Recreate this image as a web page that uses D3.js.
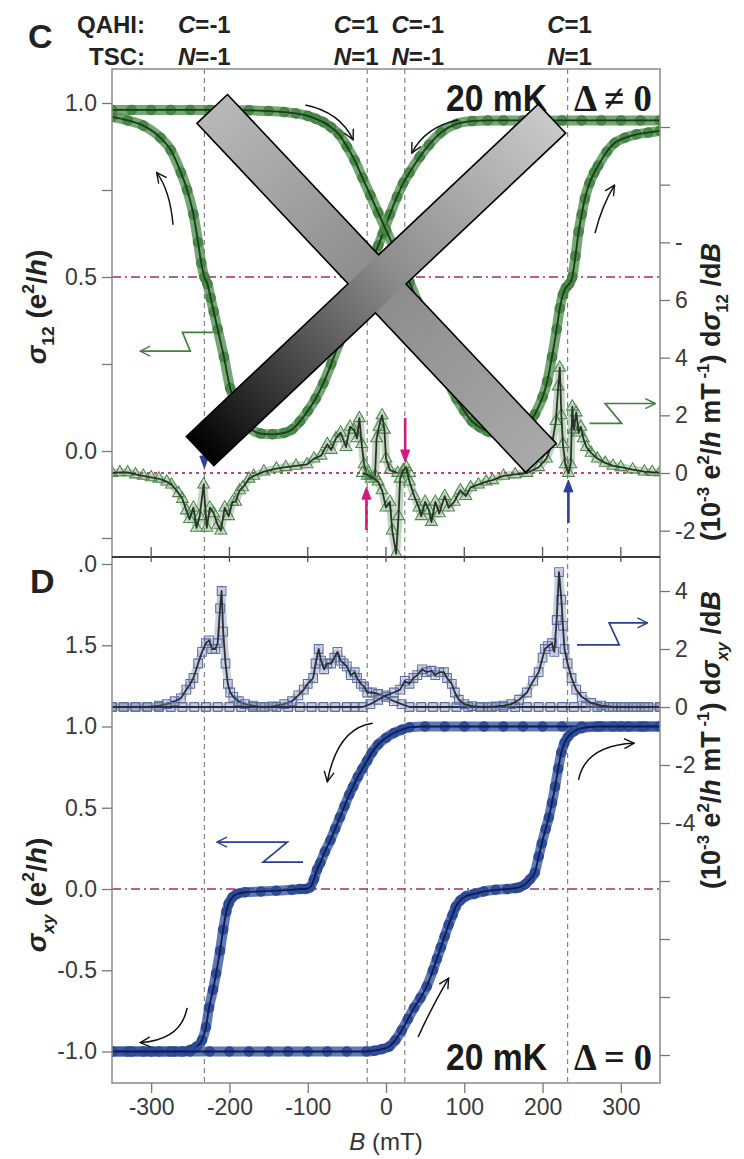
<!DOCTYPE html>
<html>
<head>
<meta charset="utf-8">
<script src="https://cdn.jsdelivr.net/npm/d3@7"></script>
<style>
    body { margin: 0; background: #fff; }
    svg  { display: block; font-family: "Liberation Sans", Arial, sans-serif; }
</style>
</head>
<body>
<svg id="chart" width="744" height="1159"></svg>
<script>

// ---- data (B in mT) ----

var bTicks = [-300, -200, -100, 0, 100, 200, 300];
var transitionFields = [-232, -24, 24, 232];
var qahiLabels = ["-1", "1", "-1", "1"];
var tscLabels  = ["-1", "1", "-1", "1"];

var sigma12Up = [
    [-350,0.98],[-325,0.98],[-300,0.98],[-275,0.98],[-250,0.98],[-225,0.98],[-200,0.98],[-175,0.979],
    [-150,0.977],[-130,0.974],[-115,0.97],[-100,0.963],[-90,0.955],[-80,0.945],[-70,0.93],[-60,0.91],
    [-50,0.875],[-40,0.835],[-30,0.785],[-20,0.735],[-10,0.685],[0,0.635],[10,0.585],[20,0.535],
    [30,0.485],[40,0.43],[50,0.37],[60,0.31],[70,0.25],[80,0.195],[90,0.15],[100,0.115],[110,0.085],
    [120,0.068],[130,0.056],[140,0.05],[150,0.048],[160,0.05],[170,0.058],[180,0.072],[190,0.105],
    [200,0.155],[206,0.2],[212,0.27],[218,0.35],[222,0.41],[226,0.45],[230,0.47],[234,0.48],[238,0.5],
    [242,0.56],[246,0.63],[250,0.68],[254,0.725],[260,0.77],[266,0.8],[271,0.82],[282,0.86],[292,0.885],
    [305,0.9],[320,0.91],[335,0.915],[350,0.92]
];

var sigma12Down = [
    [-350,0.96],[-330,0.95],[-310,0.935],[-288,0.9],[-275,0.865],[-262,0.8],[-254,0.75],[-246,0.68],
    [-240,0.6],[-236,0.54],[-232,0.5],[-228,0.48],[-224,0.44],[-220,0.4],[-215,0.35],[-207,0.27],
    [-199,0.18],[-193,0.14],[-186,0.1],[-175,0.068],[-160,0.05],[-145,0.048],[-130,0.052],[-120,0.062],
    [-110,0.085],[-100,0.115],[-90,0.15],[-80,0.195],[-70,0.25],[-60,0.31],[-50,0.37],[-40,0.43],
    [-30,0.485],[-20,0.54],[-10,0.59],[-4,0.625],[5,0.68],[14,0.73],[22,0.77],[30,0.8],[43,0.845],
    [55,0.88],[70,0.915],[90,0.94],[110,0.948],[130,0.95],[150,0.95],[175,0.95],[200,0.95],[225,0.95],
    [250,0.95],[275,0.95],[300,0.95],[325,0.95],[350,0.95]
];

// d(sigma12)/dB, 1e-3 e^2/h per mT
var dSigma12Down = [
    [-350,0],[-340,0.02],[-330,0.02],[-320,-0.05],[-310,-0.1],[-300,-0.15],[-290,-0.2],[-280,-0.3],
    [-274,-0.4],[-265,-0.7],[-260,-0.9],[-255,-1.3],[-251,-1.6],[-246,-1.2],[-242,-1.9],[-238,-1.5],
    [-233,-0.4],[-229,-1.9],[-225,-1.2],[-220,-1.4],[-215,-1.8],[-211,-2.0],[-206,-1.2],[-201,-1.5],
    [-196,-1.0],[-192,-1.0],[-187,-0.6],[-183,-0.5],[-175,-0.2],[-169,-0.1],[-156,0.05],[-140,0.15],
    [-128,0.2],[-115,0.25],[-101,0.3],[-92,0.5],[-83,0.6],[-75,1.0],[-70,0.8],[-64,1.2],[-58,1.4],
    [-51,0.9],[-46,1.6],[-41,1.5],[-37,1.2],[-34,1.9],[-31,1.0],[-28,0.3],[-24,-0.1],[-19,-0.2],
    [-14,-0.1],[-12,1.2],[-9,1.6],[-5,2.0],[-2,1.5],[0,0.5],[5,0.1],[15,0],[30,0]
];

var dSigma12Up = [
    [-30,0],[-20,-0.1],[-10,-0.3],[-5,-0.6],[0,-1.2],[5,-1.0],[8,-2.0],[13,-2.8],[16,-1.5],[18,-0.2],
    [22,0.1],[26,0.2],[30,-0.3],[36,-0.8],[42,-1.2],[45,-1.5],[50,-1.0],[55,-1.3],[58,-1.7],[63,-1.0],
    [68,-1.4],[75,-0.8],[80,-1.2],[87,-1.0],[95,-0.6],[102,-0.8],[108,-0.5],[118,-0.4],[128,-0.3],
    [136,-0.25],[150,-0.1],[165,-0.05],[180,0],[195,0.2],[205,0.5],[212,1.0],[217,1.8],[220,3.0],
    [222,3.65],[224,2.0],[226,1.0],[229,0.3],[233,0.0],[236,0.3],[238,2.3],[240,1.5],[243,2.1],
    [246,1.4],[249,1.6],[252,1.2],[256,0.9],[262,0.7],[270,0.5],[280,0.35],[290,0.25],[300,0.2],
    [315,0.12],[330,0.05],[340,0.03],[350,0.02]
];

var sigmaXYUp = [
    [-350,-1],[-325,-1],[-300,-1],[-275,-1],[-250,-1],[-225,-1],[-200,-1],[-175,-1],[-150,-1],[-125,-1],
    [-100,-1],[-75,-1],[-50,-1],[-25,-1],[-15,-0.995],[-5,-0.985],[4,-0.97],[12,-0.93],[20,-0.87],
    [28,-0.8],[36,-0.73],[44,-0.67],[52,-0.6],[60,-0.5],[65,-0.43],[70,-0.36],[75,-0.29],[80,-0.22],
    [85,-0.16],[89,-0.11],[95,-0.07],[102,-0.045],[113,-0.03],[125,-0.015],[140,-0.005],[155,0],
    [165,0.005],[170,0.01],[178,0.03],[184,0.06],[190,0.1],[195,0.2],[199,0.28],[204,0.37],[208,0.44],
    [212,0.53],[216,0.63],[220,0.74],[224,0.84],[228,0.9],[233,0.94],[240,0.97],[250,0.99],[270,1],
    [290,1],[310,1],[330,1],[350,1]
];

var sigmaXYDown = [
    [-350,-1],[-330,-1],[-310,-1],[-290,-1],[-270,-1],[-260,-1],[-250,-0.99],[-242,-0.97],[-235,-0.93],
    [-230,-0.85],[-226,-0.73],[-221,-0.62],[-217,-0.52],[-212,-0.38],[-208,-0.25],[-204,-0.14],
    [-201,-0.09],[-196,-0.05],[-190,-0.03],[-180,-0.02],[-160,-0.015],[-140,-0.01],[-120,-0.005],
    [-110,0],[-103,0],[-97,0.01],[-92,0.06],[-88,0.12],[-84,0.16],[-78,0.23],[-71,0.3],[-65,0.37],
    [-59,0.44],[-53,0.51],[-47,0.58],[-42,0.63],[-36,0.69],[-30,0.74],[-24,0.79],[-18,0.84],[-10,0.89],
    [0,0.93],[10,0.96],[20,0.98],[30,0.995],[50,1],[75,1],[100,1],[125,1],[150,1],[175,1],[200,1],
    [225,1],[250,1],[275,1],[300,1],[325,1],[350,1]
];

// d(sigma_xy)/dB, 1e-3 e^2/h per mT
var dSigmaXYDown = [
    [-350,0],[-335,0],[-320,0],[-305,0],[-290,0.05],[-280,0.1],[-270,0.2],[-262,0.3],[-255,0.6],
    [-250,0.8],[-246,1.0],[-240,1.5],[-235,1.9],[-230,2.2],[-226,2.3],[-222,2.0],[-218,2.0],[-215,2.2],
    [-212,3.4],[-210,4.0],[-208,2.6],[-205,1.5],[-202,0.8],[-199,0.5],[-195,0.35],[-188,0.2],
    [-180,0.1],[-170,0.05],[-160,0],[-145,0.02],[-130,0.1],[-120,0.2],[-112,0.4],[-105,0.6],
    [-100,0.8],[-93,1.0],[-90,1.5],[-86,2.0],[-83,1.6],[-79,1.3],[-75,1.5],[-70,1.5],[-66,1.7],
    [-62,1.9],[-58,1.6],[-54,1.5],[-50,1.4],[-45,1.1],[-40,1.2],[-37,1.0],[-32,0.8],[-28,0.7],
    [-24,0.5],[-18,0.5],[-10,0.45],[0,0.35],[10,0.2],[20,0.1],[30,0],[45,0],[60,0],[75,0],[90,0],
    [105,0],[120,0],[135,0],[150,0],[165,0],[180,0],[195,0],[210,0],[225,0],[240,0],[255,0],[270,0],
    [285,0],[300,0],[315,0],[330,0],[350,0]
];

var dSigmaXYUp = [
    [-350,0],[-335,0],[-320,0],[-305,0],[-290,0],[-275,0],[-260,0],[-245,0],[-230,0],[-215,0],
    [-200,0],[-185,0],[-170,0],[-155,0],[-140,0],[-125,0],[-110,0],[-95,0],[-80,0],[-65,0],[-50,0],
    [-40,0],[-30,0],[-20,0.1],[-10,0.25],[0,0.4],[10,0.5],[18,0.6],[24,0.9],[30,0.8],[35,1.0],
    [40,1.1],[46,1.3],[52,1.2],[58,1.25],[63,1.1],[68,1.2],[74,1.2],[78,1.0],[84,0.8],[88,0.5],
    [93,0.25],[100,0.1],[110,0.03],[120,0],[130,0],[140,0.02],[150,0.05],[160,0.1],[170,0.25],
    [180,0.5],[188,0.9],[195,1.2],[200,1.7],[203,2.0],[207,2.1],[212,2.2],[215,1.9],[218,3.0],
    [221,4.65],[224,3.7],[226,2.8],[228,2.0],[232,1.5],[237,1.0],[243,0.6],[250,0.35],[262,0.14],
    [275,0.05],[290,0],[305,0],[320,0],[335,0],[350,0]
];

// ---- layout ----

var frame = { left: 112, right: 660, top: 69, mid: 557, bottom: 1083 };

var x   = d3.scaleLinear().domain([-350, 350]).range([frame.left, frame.right]);
var yC  = d3.scaleLinear().domain([0, 1]).range([451, 103]);
var yCd = d3.scaleLinear().domain([0, 6]).range([473, 300]);
var yD  = d3.scaleLinear().domain([0, 1]).range([889, 726.5]);
var yDd = d3.scaleLinear().domain([0, 4]).range([707, 591]);

var GREEN = "#468a45", GREEN_DARK = "#1c3a1c";
var BLUE  = "#2c4d9e", BLUE_DARK = "#0e1c4e";
var PLUM  = "#9c2f6c";

var svg  = d3.select("#chart");
var defs = svg.append("defs");

defs.append("clipPath").attr("id", "clipC")
    .append("rect")
    .attr("x", frame.left).attr("y", frame.top)
    .attr("width", frame.right - frame.left).attr("height", frame.mid - frame.top);

defs.append("clipPath").attr("id", "clipD")
    .append("rect")
    .attr("x", frame.left).attr("y", frame.mid)
    .attr("width", frame.right - frame.left).attr("height", frame.bottom - frame.mid);

["#111", "#3f7f3f", "#2a3f8f"].forEach(function (c, i) {
    defs.append("marker")
        .attr("id", "head" + i)
        .attr("viewBox", "0 0 12 12")
        .attr("refX", 11).attr("refY", 6)
        .attr("markerWidth", 12).attr("markerHeight", 12)
        .attr("markerUnits", "userSpaceOnUse")
        .attr("orient", "auto")
        .append("path")
        .attr("d", "M1,1 L11,6 L1,11")
        .attr("fill", "none")
        .attr("stroke", c)
        .attr("stroke-width", 1.4);
});

// ---- guide lines ----

var guides = svg.append("g");

guides.selectAll("line.field")
    .data(transitionFields)
    .enter()
    .append("line")
    .attr("class", "field")
    .attr("x1", function (d) { return x(d); })
    .attr("x2", function (d) { return x(d); })
    .attr("y1", frame.top).attr("y2", frame.bottom)
    .attr("stroke", "#7a7a7a")
    .attr("stroke-width", 1.1)
    .attr("stroke-dasharray", "5,4");

guides.append("line")
    .attr("x1", frame.left).attr("x2", frame.right)
    .attr("y1", yC(0.5)).attr("y2", yC(0.5))
    .attr("stroke", PLUM).attr("stroke-width", 1.5)
    .attr("stroke-dasharray", "9,4,2,4");

guides.append("line")
    .attr("x1", frame.left).attr("x2", frame.right)
    .attr("y1", yD(0)).attr("y2", yD(0))
    .attr("stroke", PLUM).attr("stroke-width", 1.5)
    .attr("stroke-dasharray", "9,4,2,4");

guides.append("line")
    .attr("x1", frame.left).attr("x2", frame.right)
    .attr("y1", yCd(0)).attr("y2", yCd(0))
    .attr("stroke", "#c2407e").attr("stroke-width", 2)
    .attr("stroke-dasharray", "3,4");

// ---- series ----

function conductance (g, data, y, color, dark) {

    var line = d3.line()
        .x(function (d) { return x(d[0]); })
        .y(function (d) { return y(d[1]); })
        .curve(d3.curveMonotoneX);

    g.append("path")
        .attr("d", line(data))
        .attr("fill", "none")
        .attr("stroke", color)
        .attr("stroke-opacity", 0.75)
        .attr("stroke-width", 10)
        .attr("stroke-linejoin", "round");

    g.selectAll(null)
        .data(data)
        .enter()
        .append("circle")
        .attr("cx", function (d) { return x(d[0]); })
        .attr("cy", function (d) { return y(d[1]); })
        .attr("r", 5)
        .attr("fill", color)
        .attr("stroke", dark)
        .attr("stroke-opacity", 0.35)
        .attr("stroke-width", 0.8);

    g.append("path")
        .attr("d", line(data))
        .attr("fill", "none")
        .attr("stroke", dark)
        .attr("stroke-width", 1.8);
}

function derivative (g, data, y, symbol, color) {

    var line = d3.line()
        .x(function (d) { return x(d[0]); })
        .y(function (d) { return y(d[1]); });

    g.append("path")
        .attr("d", line(data))
        .attr("fill", "none")
        .attr("stroke", color)
        .attr("stroke-opacity", 0.35)
        .attr("stroke-width", 8)
        .attr("stroke-linejoin", "round");

    g.selectAll(null)
        .data(data)
        .enter()
        .append("path")
        .attr("transform", function (d) { return "translate(" + x(d[0]) + "," + y(d[1]) + ")"; })
        .attr("d", d3.symbol().type(symbol).size(symbol === d3.symbolSquare ? 75 : 60))
        .attr("fill", "none")
        .attr("stroke", color)
        .attr("stroke-width", 1.1);

    g.append("path")
        .attr("d", line(data))
        .attr("fill", "none")
        .attr("stroke", "#2e2e2e")
        .attr("stroke-width", 1.8)
        .attr("stroke-linejoin", "round");
}

var panelC = svg.append("g").attr("clip-path", "url(#clipC)");
var panelD = svg.append("g").attr("clip-path", "url(#clipD)");

derivative(panelC, dSigma12Down, yCd, d3.symbolTriangle, "#4a8a48");
derivative(panelC, dSigma12Up,   yCd, d3.symbolTriangle, "#4a8a48");
conductance(panelC, sigma12Down, yC, GREEN, GREEN_DARK);
conductance(panelC, sigma12Up,   yC, GREEN, GREEN_DARK);

derivative(panelD, dSigmaXYDown, yDd, d3.symbolSquare, "#5d70a6");
derivative(panelD, dSigmaXYUp,   yDd, d3.symbolSquare, "#5d70a6");
conductance(panelD, sigmaXYDown, yD, BLUE, BLUE_DARK);
conductance(panelD, sigmaXYUp,   yD, BLUE, BLUE_DARK);

// ---- sweep arrows ----

var notes = svg.append("g").attr("fill", "none");

function bend (pts, xs, ys) {
    var p = pts.map(function (d) { return [xs(d[0]), ys(d[1])]; });
    return "M" + p[0] + " Q" + p[1] + " " + p[2];
}

[
    [[-272, 0.65], [-276, 0.75], [-293, 0.80]],
    [[-103, 0.994], [-59, 0.974], [-42, 0.894]],
    [[92, 0.951], [50, 0.931], [33, 0.856]],
    [[267, 0.626], [276, 0.707], [292, 0.764]]
].forEach(function (p) {
    notes.append("path").attr("d", bend(p, x, yC))
        .attr("stroke", "#111").attr("stroke-width", 1.5)
        .attr("marker-end", "url(#head0)");
});

[
    [[-17, 1.02], [-62, 0.99], [-75, 0.66]],
    [[246, 0.671], [254, 0.88], [317, 0.898]],
    [[-254, -0.732], [-262, -0.93], [-314, -0.945]],
    [[41, -0.911], [59, -0.72], [80, -0.548]]
].forEach(function (p) {
    notes.append("path").attr("d", bend(p, x, yD))
        .attr("stroke", "#111").attr("stroke-width", 1.5)
        .attr("marker-end", "url(#head0)");
});

// axis pointers (zig-zag)
function zig (pts, xs, ys, color, head) {
    notes.append("path")
        .attr("d", d3.line().x(function (d) { return xs(d[0]); }).y(function (d) { return ys(d[1]); })(pts))
        .attr("stroke", color).attr("stroke-width", 1.7)
        .attr("marker-end", "url(#" + head + ")");
}

zig([[-221, 0.341], [-260, 0.341], [-250, 0.287], [-314, 0.287]], x, yC, "#3f7f3f", "head1");
zig([[260, 1.72], [301, 1.72], [280, 2.41], [344, 2.41]], x, yCd, "#3f7f3f", "head1");
zig([[-106, 0.166], [-157, 0.166], [-126, 0.289], [-216, 0.289]], x, yD, "#2a3f8f", "head2");
zig([[244, 2.14], [298, 2.14], [285, 2.9], [334, 2.9]], x, yDd, "#2a3f8f", "head2");

// zero-crossing markers on the derivative
function pointer (b, from, to, color) {
    var x0 = x(b), y0 = yCd(from), y1 = yCd(to), dir = y1 > y0 ? 1 : -1;
    notes.append("line")
        .attr("x1", x0).attr("x2", x0)
        .attr("y1", y0).attr("y2", y1 - dir * 10)
        .attr("stroke", color).attr("stroke-width", 2.6);
    notes.append("path")
        .attr("d", "M" + (x0 - 4.5) + "," + (y1 - dir * 12) + " L" + x0 + "," + y1 + " L" + (x0 + 4.5) + "," + (y1 - dir * 12) + " Z")
        .attr("fill", color).attr("stroke", color);
}

pointer(-25, -1.98, -0.49, "#d4187f");
pointer(24.5, 1.91, 0.38, "#d4187f");
pointer(233, -1.73, -0.24, "#2d3f9e");
pointer(-232, 1.14, 0.17, "#2d3f9e");

// ---- frame and axes ----

var axes = svg.append("g");

axes.append("rect")
    .attr("x", frame.left).attr("y", frame.top)
    .attr("width", frame.right - frame.left).attr("height", frame.bottom - frame.top)
    .attr("fill", "none").attr("stroke", "#8a8a8a").attr("stroke-width", 1.5);

axes.append("line")
    .attr("x1", frame.left).attr("x2", frame.right)
    .attr("y1", frame.mid).attr("y2", frame.mid)
    .attr("stroke", "#3a3a3a").attr("stroke-width", 2.2);

axes.selectAll("line.midtick")
    .data(bTicks)
    .enter()
    .append("line")
    .attr("class", "midtick")
    .attr("x1", function (d) { return x(d); })
    .attr("x2", function (d) { return x(d); })
    .attr("y1", frame.mid - 10).attr("y2", frame.mid + 5)
    .attr("stroke", "#555").attr("stroke-width", 1.3);

function style (g) {
    g.select(".domain").remove();
    g.selectAll(".tick line").attr("stroke", "#777").attr("stroke-width", 1.3);
    g.selectAll(".tick text")
        .attr("fill", "#3a3a3a")
        .style("font-size", "23px");
}

axes.append("g")
    .attr("transform", "translate(" + frame.left + ",0)")
    .call(d3.axisLeft(yC)
        .tickValues([-0.25, 0, 0.25, 0.5, 0.75, 1])
        .tickSize(10).tickPadding(5)
        .tickFormat(function (d) { return d % 0.5 === 0 ? d.toFixed(1) : ""; }))
    .call(style);

axes.append("g")
    .attr("transform", "translate(" + frame.left + ",0)")
    .call(d3.axisLeft(yD)
        .tickValues([-1, -0.5, 0, 0.5, 1, 1.5, 2])
        .tickSize(10).tickPadding(5)
        .tickFormat(function (d) { return d === 2 ? ".0" : d.toFixed(1); }))
    .call(style);

axes.append("g")
    .attr("transform", "translate(" + frame.right + ",0)")
    .call(d3.axisRight(yCd)
        .tickValues([-2, 0, 2, 4, 6, 8, 10, 12])
        .tickSize(10).tickPadding(5)
        .tickFormat(function (d) { return d <= 6 ? String(d) : d === 8 ? "-" : ""; }))
    .call(style);

axes.append("g")
    .attr("transform", "translate(" + frame.right + ",0)")
    .call(d3.axisRight(yDd)
        .tickValues([-12, -10, -8, -6, -4, -2, 0, 2, 4])
        .tickSize(10).tickPadding(5)
        .tickFormat(function (d) { return d >= -4 ? String(d) : ""; }))
    .call(style);

axes.append("g")
    .attr("transform", "translate(0," + frame.bottom + ")")
    .call(d3.axisBottom(x)
        .tickValues(bTicks)
        .tickSize(10).tickPadding(6)
        .tickFormat(String))
    .call(style);

// ---- text ----

function rich (sel, parts, size) {
    var shift = 0;
    parts.forEach(function (p) {
        var t = sel.append("tspan").text(p.t), want = 0, fs = size;
        if (p.sup) { want = -0.42 * size; fs = 0.62 * size; }
        if (p.sub) { want = 0.28 * size; fs = 0.62 * size; }
        t.attr("dy", want - shift).style("font-size", fs + "px");
        if (p.i) t.style("font-style", "italic");
        shift = want;
    });
    return sel;
}

function title (tx, ty, parts, size) {
    var t = svg.append("text")
        .attr("transform", "translate(" + tx + "," + ty + ") rotate(-90)")
        .attr("text-anchor", "middle")
        .attr("font-weight", "bold")
        .attr("fill", "#222")
        .style("font-size", size + "px");
    rich(t, parts, size);
}

title(46, 307, [{ t: "σ", i: true }, { t: "12", sub: true }, { t: " (e" }, { t: "2", sup: true }, { t: "/" }, { t: "h", i: true }, { t: ")" }], 28);
title(46, 895, [{ t: "σ", i: true }, { t: "xy", sub: true, i: true }, { t: " (e" }, { t: "2", sup: true }, { t: "/" }, { t: "h", i: true }, { t: ")" }], 28);

title(720, 392, [{ t: "(10" }, { t: "-3", sup: true }, { t: " e" }, { t: "2", sup: true }, { t: "/" }, { t: "h", i: true },
    { t: " mT" }, { t: " -1", sup: true }, { t: ") d" }, { t: "σ", i: true }, { t: "12", sub: true }, { t: " /d" }, { t: "B", i: true }], 27);
title(720, 740, [{ t: "(10" }, { t: "-3", sup: true }, { t: " e" }, { t: "2", sup: true }, { t: "/" }, { t: "h", i: true },
    { t: " mT" }, { t: " -1", sup: true }, { t: ") d" }, { t: "σ", i: true }, { t: "xy", sub: true, i: true }, { t: " /d" }, { t: "B", i: true }], 27);

var xl = svg.append("text")
    .attr("x", x(0)).attr("y", 1150)
    .attr("text-anchor", "middle")
    .attr("fill", "#333")
    .style("font-size", "24px");
rich(xl, [{ t: "B", i: true }, { t: " (mT)" }], 24);

svg.append("text").attr("x", 28).attr("y", 48)
    .attr("font-weight", "bold").style("font-size", "34px").attr("fill", "#222").text("C");
svg.append("text").attr("x", 30).attr("y", 593)
    .attr("font-weight", "bold").style("font-size", "34px").attr("fill", "#222").text("D");

svg.append("text").attr("x", 145).attr("y", 33).attr("text-anchor", "end")
    .attr("font-weight", "bold").style("font-size", "24px").attr("fill", "#222").text("QAHI:");
svg.append("text").attr("x", 145).attr("y", 65).attr("text-anchor", "end")
    .attr("font-weight", "bold").style("font-size", "24px").attr("fill", "#222").text("TSC:");

var nudge = [0, -11, 13, 2];

[[qahiLabels, "C", 33], [tscLabels, "N", 65]].forEach(function (row) {
    svg.append("g")
        .selectAll("text")
        .data(row[0])
        .enter()
        .append("text")
        .attr("x", function (d, i) { return x(transitionFields[i]) + nudge[i]; })
        .attr("y", row[2])
        .attr("text-anchor", "middle")
        .attr("font-weight", "bold")
        .attr("fill", "#222")
        .style("font-size", "24px")
        .each(function (d) {
            rich(d3.select(this), [{ t: row[1], i: true }, { t: "=" + d }], 24);
        });
});

// condensed look of the temperature tags
function temp (ty, rel) {
    svg.append("text").attr("x", 446).attr("y", ty)
        .attr("font-weight", "bold").style("font-size", "37px").attr("fill", "#1a1a1a")
        .attr("textLength", 101).attr("lengthAdjust", "spacingAndGlyphs")
        .text("20 mK");
    svg.append("text").attr("x", 574).attr("y", ty)
        .attr("font-family", "'Liberation Serif', 'DejaVu Serif', serif")
        .attr("font-weight", "bold").style("font-size", "38px").attr("fill", "#1a1a1a")
        .attr("textLength", 78).attr("lengthAdjust", "spacingAndGlyphs")
        .text("Δ " + rel + " 0");
}

temp(111, "≠");
temp(1070, "=");

// ---- retraction cross ----

var crossBars = [
    { from: [-222, 0.983], to: [198, -0.02], width: 42, stops: [[0, "#b8b8b8"], [0.5, "#8a8a8a"], [1, "#a9a9a9"]] },
    { from: [-237.5, 0.0], to: [212, 0.955], width: 40, stops: [[0, "#000"], [0.1, "#1c1c1c"], [0.35, "#5e5e5e"], [0.55, "#8e8e8e"], [1, "#c9c9c9"]] }
];

function barCorners (bar) {
    var p = [x(bar.from[0]), yC(bar.from[1])],
        q = [x(bar.to[0]), yC(bar.to[1])],
        len = Math.hypot(q[0] - p[0], q[1] - p[1]),
        u = [(q[0] - p[0]) / len, (q[1] - p[1]) / len],
        n = [-u[1] * bar.width / 2, u[0] * bar.width / 2];
    return {
        p: p, q: q, u: u,
        pPlus: [p[0] + n[0], p[1] + n[1]], pMinus: [p[0] - n[0], p[1] - n[1]],
        qPlus: [q[0] + n[0], q[1] + n[1]], qMinus: [q[0] - n[0], q[1] - n[1]]
    };
}

function meet (a, da, b, db) {
    var den = da[0] * db[1] - da[1] * db[0],
        t = ((b[0] - a[0]) * db[1] - (b[1] - a[1]) * db[0]) / den;
    return [a[0] + da[0] * t, a[1] + da[1] * t];
}

var cross = svg.append("g");
var bars = crossBars.map(barCorners);

crossBars.forEach(function (bar, i) {
    var c = bars[i];
    var grad = defs.append("linearGradient")
        .attr("id", "bar" + i)
        .attr("gradientUnits", "userSpaceOnUse")
        .attr("x1", c.p[0]).attr("y1", c.p[1])
        .attr("x2", c.q[0]).attr("y2", c.q[1]);
    bar.stops.forEach(function (s) {
        grad.append("stop").attr("offset", s[0]).attr("stop-color", s[1]);
    });
    cross.append("path")
        .attr("d", "M" + [c.pPlus, c.pMinus, c.qMinus, c.qPlus].join("L") + "Z")
        .attr("fill", "url(#bar" + i + ")");
});

(function () {
    var a = bars[0], b = bars[1];
    var top    = meet(a.pMinus, a.u, b.pMinus, b.u),
        right  = meet(a.pMinus, a.u, b.pPlus, b.u),
        bottom = meet(a.pPlus, a.u, b.pPlus, b.u),
        left   = meet(a.pPlus, a.u, b.pMinus, b.u);
    var outline = [a.pMinus, top, b.qMinus, b.qPlus, right, a.qMinus, a.qPlus, bottom, b.pPlus, b.pMinus, left, a.pPlus];
    cross.append("path")
        .attr("d", "M" + outline.join("L") + "Z")
        .attr("fill", "none")
        .attr("stroke", "#000")
        .attr("stroke-width", 1.6)
        .attr("stroke-linejoin", "miter");
})();

</script>
</body>
</html>
